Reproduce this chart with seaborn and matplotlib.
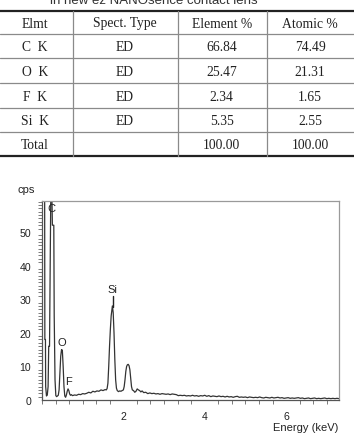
import matplotlib
matplotlib.use("Agg")
import matplotlib.pyplot as plt
from matplotlib.ticker import MultipleLocator
import seaborn as sns
import pandas as pd

# ---------------- data ----------------
caption = "in new ez NANOsence contact lens"
table_header = ["Elmt", "Spect. Type", "Element %", "Atomic %"]
elements = ["C  K", "O  K", "F  K", "Si  K", "Total"]
spect_type = ["ED", "ED", "ED", "ED", ""]
element_pct = ["66.84", "25.47", "2.34", "5.35", "100.00"]
atomic_pct = ["74.49", "21.31", "1.65", "2.55", "100.00"]

energy = [0.05, 0.065, 0.07, 0.085, 0.09, 0.11, 0.13, 0.15, 0.165, 0.185,
          0.20, 0.215, 0.245, 0.255, 0.29, 0.30, 0.32, 0.34, 0.36, 0.38,
          0.40, 0.42, 0.44, 0.46, 0.48, 0.50, 0.52, 0.54, 0.56, 0.58,
          0.60, 0.62, 0.64, 0.66, 0.68, 0.70, 0.72, 0.75, 0.80, 0.85,
          0.90, 0.95, 1.00, 1.05, 1.10, 1.15, 1.20, 1.25, 1.30, 1.35,
          1.40, 1.45, 1.50, 1.55, 1.58, 1.60, 1.62, 1.64, 1.66, 1.68,
          1.70, 1.72, 1.73, 1.75, 1.77, 1.79, 1.81, 1.83, 1.85, 1.88,
          1.91, 1.94, 1.97, 2.00, 2.02, 2.04, 2.06, 2.08, 2.10, 2.12,
          2.14, 2.16, 2.18, 2.20, 2.22, 2.25, 2.28, 2.31, 2.34, 2.37,
          2.40, 2.43, 2.46, 2.50, 2.55, 2.60, 2.65, 2.70, 2.75, 2.80,
          2.85, 2.90, 2.95, 3.00, 3.05, 3.10, 3.15, 3.20, 3.25, 3.30,
          3.35, 3.40, 3.45, 3.50, 3.55, 3.60, 3.65, 3.70, 3.75, 3.80,
          3.85, 3.90, 3.95, 4.00, 4.05, 4.10, 4.15, 4.20, 4.25, 4.30,
          4.35, 4.40, 4.45, 4.50, 4.55, 4.60, 4.65, 4.70, 4.75, 4.80,
          4.85, 4.90, 4.95, 5.00, 5.05, 5.10, 5.15, 5.20, 5.25, 5.30,
          5.35, 5.40, 5.45, 5.50, 5.55, 5.60, 5.65, 5.70, 5.75, 5.80,
          5.85, 5.90, 5.95, 6.00, 6.05, 6.10, 6.15, 6.20, 6.25, 6.30,
          6.35, 6.40, 6.45, 6.50, 6.55, 6.60, 6.65, 6.70, 6.75, 6.80,
          6.85, 6.90, 6.95, 7.00, 7.05, 7.10, 7.15, 7.20, 7.25, 7.30]
cps = [62, 62, 18, 18, 4, 1.2, 1.5, 4, 16, 16,
       40, 60, 60, 52, 52, 25, 6, 1.3, 1.0, 1.2,
       1.4, 3, 8, 13, 15, 14.8, 10, 4, 1.2, 0.8,
       1.5, 2.6, 3.3, 2.8, 1.8, 1.4, 1.6, 1.3, 1.5, 1.4,
       1.7, 1.6, 1.9, 1.8, 2.0, 2.3, 2.1, 2.6, 2.4, 2.7,
       2.6, 3.0, 2.8, 3.1, 3.0, 3.4, 5, 10, 16, 21,
       25, 27, 28, 26, 20, 12, 6, 3.5, 2.8, 2.5,
       2.7, 2.6, 2.8, 3.0, 4, 6, 8.5, 10, 10.5, 10.6,
       10.2, 9, 6.5, 4, 3, 2.8, 2.3, 2.6, 3.3, 3.0,
       2.8, 2.4, 2.7, 2.2, 2.3, 1.9, 2.1, 1.9, 2.0, 1.8,
       1.9, 1.7, 1.9, 1.8, 1.7, 1.8, 1.6, 1.8, 1.7, 1.6,
       1.3, 1.4, 1.3, 1.4, 1.2, 1.3, 1.2, 1.4, 1.2, 1.3,
       1.1, 1.3, 1.2, 1.4, 1.1, 1.3, 1.0, 1.2, 1.1, 1.0,
       1.2, 1.0, 1.1, 0.9, 1.1, 0.9, 1.0, 0.8, 1.0, 1.1,
       0.8, 0.9, 0.8, 0.9, 0.7, 0.9, 0.8, 0.7, 0.8, 0.7,
       0.9, 0.7, 0.6, 0.8, 0.7, 0.6, 0.8, 0.6, 0.7, 0.8,
       0.6, 0.7, 0.5, 0.6, 0.7, 0.5, 0.6, 0.5, 0.6, 0.7,
       0.5, 0.6, 0.4, 0.5, 0.6, 0.4, 0.5, 0.6, 0.4, 0.5,
       0.4, 0.5, 0.6, 0.4, 0.5, 0.4, 0.5, 0.4, 0.5, 0.4]

peak_labels = ["C", "O", "F", "Si"]
peak_label_x = [0.24, 0.49, 0.66, 1.735]
peak_label_y = [57.0, 17.3, 5.7, 33.0]

x_ticks = [2, 4, 6]
y_ticks = [0, 10, 20, 30, 40, 50]

# ---------------- style ----------------
sns.set_style("white")
plt.rcParams["font.family"] = ["Liberation Sans", "DejaVu Sans"]

W, H = 354, 435
fig = plt.figure(figsize=(W / 100, H / 100), dpi=100)

# ---------------- table (pixel coordinates) ----------------
tax = fig.add_axes([0, 0, 1, 1])
tax.set_xlim(0, W)
tax.set_ylim(H, 0)
tax.axis("off")

row_lines = [12, 35, 59.3, 84.3, 109, 133.3, 156.7]
col_lines = [73.3, 177.7, 266.7]
col_centers = [35, 125, 221.7, 310]
serif = ["Liberation Serif", "DejaVu Serif"]
fs_table = 9.8

tax.plot([0, W], [row_lines[0]] * 2, color="#222222", lw=1.6, solid_capstyle="butt")
tax.plot([0, W], [row_lines[-1]] * 2, color="#222222", lw=1.6, solid_capstyle="butt")
for y in row_lines[1:-1]:
    tax.plot([0, W], [y, y], color="#8a8a8a", lw=0.9)
for x in col_lines:
    tax.plot([x, x], [row_lines[0], row_lines[-1]], color="#8a8a8a", lw=0.9)

rows = [table_header] + [list(r) for r in zip(elements, spect_type, element_pct, atomic_pct)]
for i, row in enumerate(rows):
    yc = (row_lines[i] + row_lines[i + 1]) / 2 + 0.5
    for j, txt in enumerate(row):
        tax.text(col_centers[j], yc, txt, ha="center", va="center",
                 fontsize=fs_table, family=serif, color="#222222")

# caption (cut by top edge)
fig.text(154 / W, 1 - 4.5 / H, caption, ha="center", va="baseline",
         fontsize=9.5, color="#333333")

# ---------------- spectrum ----------------
ax = fig.add_axes([42 / W, 34 / H, 297 / W, 199 / H])
df = pd.DataFrame({"Energy": energy, "cps": cps})
sns.lineplot(data=df, x="Energy", y="cps", ax=ax, color="#333333",
             lw=0.9, sort=False, estimator=None)

ax.set_xlim(0, 7.3)
ax.set_ylim(0, 59.2)
ax.set_xticks(x_ticks)
ax.set_yticks(y_ticks)
ax.xaxis.set_minor_locator(MultipleLocator(1 / 3))
ax.yaxis.set_minor_locator(MultipleLocator(1))
ax.set_xlabel("")
ax.set_ylabel("")
ax.tick_params(axis="y", which="major", length=7, width=0.8, direction="out",
               labelsize=7.6, pad=1, color="#444444", labelcolor="#222222")
ax.tick_params(axis="y", which="minor", length=3, width=0.6, direction="out",
               color="#666666", left=True)
ax.tick_params(axis="x", which="major", length=5, width=0.8, direction="out",
               labelsize=7.6, pad=3, color="#444444", labelcolor="#222222")
ax.tick_params(axis="x", which="minor", length=3, width=0.6, direction="out",
               color="#666666", bottom=True)

for s in ["left", "bottom"]:
    ax.spines[s].set_color("#555555")
    ax.spines[s].set_linewidth(0.9)
for s in ["top", "right"]:
    ax.spines[s].set_color("#9a9a9a")
    ax.spines[s].set_linewidth(0.9)

for lab, lx, ly in zip(peak_labels, peak_label_x, peak_label_y):
    ax.text(lx, ly, lab, ha="center", va="center", fontsize=8, color="#222222")
# Si marker line below its label
si = peak_labels.index("Si")
ax.plot([peak_label_x[si]] * 2, [peak_label_y[si] - 5.2, peak_label_y[si] - 2.0],
        color="#222222", lw=1.0)

fig.text(25.7 / W, 1 - 190 / H, "cps", ha="center", va="center",
         fontsize=8, color="#222222")
fig.text(338 / W, 1 - 428 / H, "Energy (keV)", ha="right", va="center",
         fontsize=8, color="#222222")

fig.savefig("out.png", dpi=100)
